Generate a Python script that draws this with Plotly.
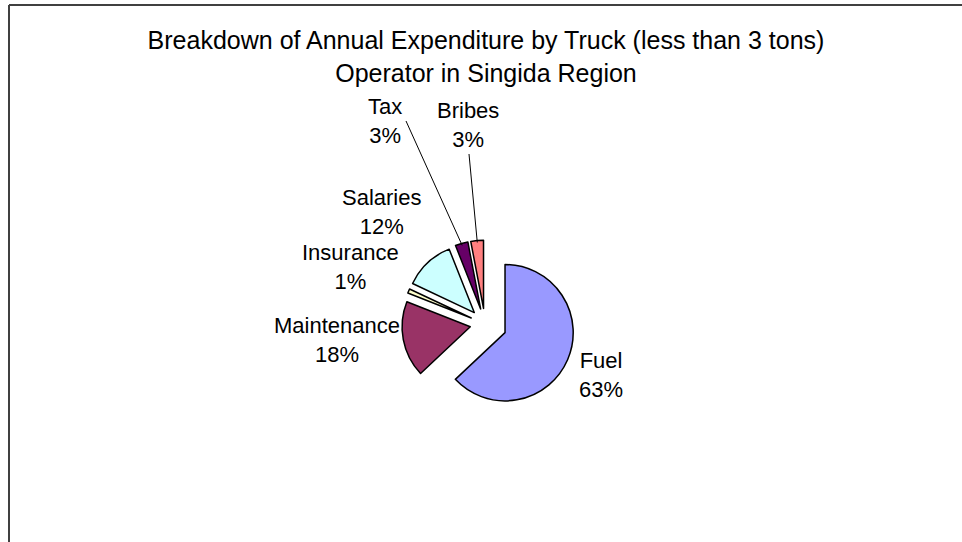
import math
import plotly.graph_objects as go

categories = ["Fuel", "Maintenance", "Insurance", "Salaries", "Tax", "Bribes"]
shares = [63, 18, 1, 12, 3, 3]
colors = ["#9999FF", "#993366", "#FFFFCC", "#CCFFFF", "#660066", "#FF8080"]
pulls = [0.32, 0.22, 0.22, 0.23, 0.23, 0.23]
title_lines = ["Breakdown of Annual Expenditure by Truck (less than 3 tons)",
               "Operator in Singida Region"]

# ---- layout constants (pixels in the 962x542 canvas) ----
W, H = 962, 542
cx, cy, R = 485, 324, 90          # pie domain centre / half size
FONT = "Liberation Sans, Arial"
LABEL_SIZE = 22
label_pos = {                      # centre of each outside label block
    "Fuel": (601, 375),
    "Maintenance": (337, 340),
    "Insurance": (350, 267),
    "Salaries": (381, 212),
    "Tax": (385, 121),
    "Bribes": (468, 125),
}
leader_start = {"Tax": (406, 121), "Bribes": (469, 154)}


def px(x):
    return x / W


def py(y):
    return 1 - y / H


fig = go.Figure(go.Pie(
    labels=categories,
    values=shares,
    sort=False,
    direction="clockwise",
    rotation=0,
    pull=pulls,
    marker=dict(colors=colors, line=dict(color="black", width=1.5)),
    textinfo="none",
    showlegend=False,
    hoverinfo="label+percent",
    domain=dict(x=[px(cx - R), px(cx + R)], y=[py(cy + R), py(cy - R)]),
))

total = sum(shares)
r_pie = R / (1 + max(pulls))
annotations = []
shapes = [
    dict(type="line", xref="paper", yref="paper", x0=px(9), x1=1.01, y0=py(5), y1=py(5),
         line=dict(color="#404040", width=2)),
    dict(type="line", xref="paper", yref="paper", x0=px(9), x1=px(9), y0=py(5), y1=-0.01,
         line=dict(color="#404040", width=2)),
]

cum = 0
for cat, v, p in zip(categories, shares, pulls):
    mid = (cum + v / 2) / total * 2 * math.pi
    cum += v
    lx, ly = label_pos[cat]
    annotations.append(dict(
        x=px(lx), y=py(ly), xref="paper", yref="paper",
        text=f"{cat}<br>{round(v / total * 100)}%",
        showarrow=False, xanchor="center", yanchor="middle", align="center",
        font=dict(family=FONT, size=LABEL_SIZE, color="black"),
    ))
    if cat in leader_start:
        dist = r_pie * (1 + p) - 2
        tx = cx + dist * math.sin(mid)
        ty = cy - dist * math.cos(mid)
        sx, sy = leader_start[cat]
        shapes.append(dict(type="line", xref="paper", yref="paper",
                           x0=px(sx), y0=py(sy), x1=px(tx), y1=py(ty),
                           line=dict(color="black", width=1)))

fig.update_layout(
    width=W, height=H,
    margin=dict(l=0, r=0, t=0, b=0),
    paper_bgcolor="white",
    plot_bgcolor="white",
    font=dict(family=FONT, size=LABEL_SIZE, color="black"),
    title=dict(text="<br>".join(title_lines), x=px(486), xanchor="center",
               y=py(49), yanchor="middle",
               font=dict(family=FONT, size=25, color="black")),
    shapes=shapes,
    annotations=annotations,
)

fig.write_html("out.html")
